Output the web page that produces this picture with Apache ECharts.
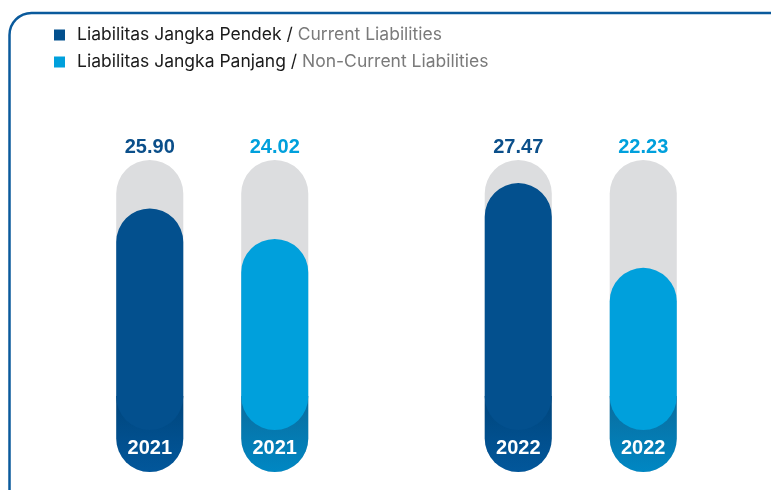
<!DOCTYPE html>
<html><head><meta charset="utf-8">
<script src="https://cdn.jsdelivr.net/npm/echarts@6/dist/echarts.min.js"></script>
<style>html,body{margin:0;padding:0;background:#fff}#c{width:771px;height:490px}</style>
</head><body><div id="c"></div>
<script>
// ---- data ----
const years = ['2021', '2022'];
const currentLiab = [25.90, 27.47];
const nonCurrentLiab = [24.02, 22.23];
const namesId = ['Liabilitas Jangka Pendek', 'Liabilitas Jangka Panjang'];
const namesEn = ['Current Liabilities', 'Non-Current Liabilities'];

// ---- styling ----
const AXIS_MIN = 9.6, AXIS_MAX = 28.9;
const FILL_BOTTOM = 12.2;   // value where the bright capsule ends
const BASE_TOP = 14.3;      // darker base, mostly hidden under capsule
const mainColors = ['#03508E', '#00A0DC'];
const labelColors = ['#0B4F8A', '#00A0DC'];
const baseGrad = [['#00457C', '#02579B'], ['#0A6C9D', '#0087C3']];
const OFFSET_FRAC = 0.1696, WIDTH_FRAC = 0.182;
const LABEL_FONT = 'bold 20px "Liberation Sans", Arial, sans-serif';

const chart = echarts.init(document.getElementById('c'), null, {renderer: 'canvas'});

function makeRender(si) {
  return function (params, api) {
    const cat = api.value(0), val = api.value(1);
    const band = api.size([1, 0])[0];
    const w = band * WIDTH_FRAC;
    const cx = api.coord([cat, val])[0] + (si === 0 ? -1 : 1) * band * OFFSET_FRAC;
    const x = cx - w / 2, r = w / 2;
    const yTop = api.coord([cat, AXIS_MAX])[1];
    const yBot = api.coord([cat, AXIS_MIN])[1];
    const yVal = api.coord([cat, val])[1];
    const yFillBot = api.coord([cat, FILL_BOTTOM])[1];
    const yBaseTop = api.coord([cat, BASE_TOP])[1];
    return {
      type: 'group',
      children: [
        {type: 'rect', shape: {x: x, y: yTop, width: w, height: yBot - yTop, r: r},
         style: {fill: '#DCDDDF'}},
        {type: 'rect', shape: {x: x, y: yBaseTop, width: w, height: yBot - yBaseTop, r: [0, 0, r, r]},
         style: {fill: new echarts.graphic.LinearGradient(0, 0, 0, 1, [
           {offset: 0, color: baseGrad[si][0]}, {offset: 1, color: baseGrad[si][1]}])}},
        {type: 'rect', shape: {x: x, y: yVal, width: w, height: yFillBot - yVal, r: r},
         style: {fill: mainColors[si]}},
        {type: 'text', style: {text: val.toFixed(2), x: cx, y: yTop - 13, align: 'center', verticalAlign: 'middle',
          fill: labelColors[si], font: LABEL_FONT}},
        {type: 'text', style: {text: years[cat], x: cx, y: yBot - 24, align: 'center', verticalAlign: 'middle',
          fill: '#FFFFFF', font: LABEL_FONT}}
      ]
    };
  };
}

const option = {
  animation: false,
  grid: {left: 28, right: 6, top: 160, bottom: 18, containLabel: false},
  xAxis: {type: 'category', data: years, show: false},
  yAxis: {type: 'value', min: AXIS_MIN, max: AXIS_MAX, show: false},
  legend: {
    orient: 'vertical', left: 49, top: 21, itemWidth: 11, itemHeight: 11, itemGap: 9,
    icon: 'rect',
    data: namesId,
    formatter: function (name) {
      const i = namesId.indexOf(name);
      return '{a|' + name + ' / }{b|' + namesEn[i] + '}';
    },
    textStyle: {
      rich: {
        a: {color: '#1a1a1a', fontSize: 17.5, fontFamily: 'Inter', lineHeight: 20, padding: [0, 0, 0, 7]},
        b: {color: '#7a7a7a', fontSize: 17.5, fontFamily: 'Inter', lineHeight: 20}
      }
    }
  },
  graphic: [{
    type: 'rect', silent: true, z: 100,
    shape: {x: 9.5, y: 13, width: 820, height: 540, r: [22, 0, 0, 0]},
    style: {fill: 'none', stroke: '#0A5A9C', lineWidth: 2.5}
  }],
  series: [
    {type: 'custom', name: namesId[0], itemStyle: {color: mainColors[0]},
     data: currentLiab.map((v, i) => [i, v]), renderItem: makeRender(0)},
    {type: 'custom', name: namesId[1], itemStyle: {color: mainColors[1]},
     data: nonCurrentLiab.map((v, i) => [i, v]), renderItem: makeRender(1)}
  ]
};
chart.setOption(option);
</script></body></html>
